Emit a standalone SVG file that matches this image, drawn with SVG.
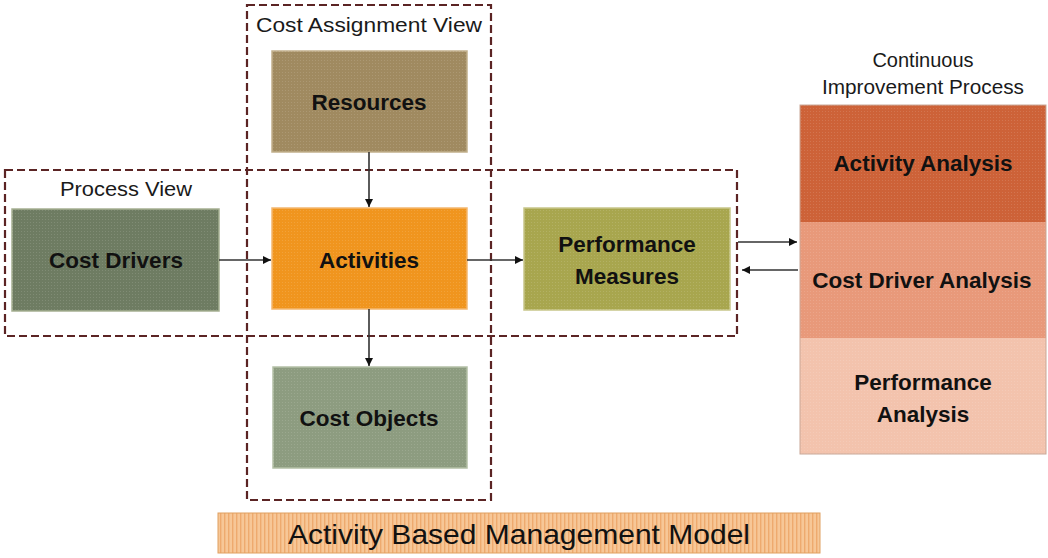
<svg xmlns="http://www.w3.org/2000/svg" width="1048" height="558" viewBox="0 0 1048 558">
<style>
.view{fill:none;stroke:#5b2424;stroke-width:2.2;stroke-dasharray:8 4}
.lbl{font-family:"Liberation Sans",Arial,sans-serif;font-size:20px;fill:#1a1a1a;text-anchor:middle}
.nt{font-family:"Liberation Sans",Arial,sans-serif;font-size:22.5px;font-weight:bold;fill:#111;text-anchor:middle}
.box{stroke-width:1.5}
.con{stroke:#333;stroke-width:1.6;fill:none;marker-end:url(#ah)}
</style>
<defs>
<marker id="ah" viewBox="0 0 10 10" refX="10" refY="5" markerWidth="8" markerHeight="8" markerUnits="userSpaceOnUse" orient="auto"><path d="M0,0 L10,5 L0,10 z" fill="#111"/></marker>
<pattern id="dots" width="3" height="3" patternUnits="userSpaceOnUse"><rect x="0" y="0" width="1" height="1" fill="#fff" fill-opacity="0.12"/></pattern>
<pattern id="stripes" width="4" height="4" patternUnits="userSpaceOnUse"><rect width="4" height="4" fill="#f7c797"/><rect x="0" width="1.4" height="4" fill="#eeaa6e"/></pattern>
</defs>
<g id="cost-assignment-view">
<rect class="view" x="247" y="5" width="244" height="495"/>
<text class="lbl" x="369" y="32" textLength="226" lengthAdjust="spacingAndGlyphs">Cost Assignment View</text>
</g>
<g id="process-view">
<rect class="view" x="5" y="170" width="732" height="166"/>
<text class="lbl" x="126" y="196" textLength="132" lengthAdjust="spacingAndGlyphs">Process View</text>
</g>
<g id="resources">
<rect class="box" x="272" y="51" width="195" height="101" fill="#a08a60" stroke="#c2b08c"/>
<rect x="272" y="51" width="195" height="101" fill="url(#dots)"/>
<text class="nt" x="369" y="110">Resources</text>
</g>
<g id="cost-drivers">
<rect class="box" x="12" y="209" width="207" height="102" fill="#6e7c62" stroke="#a6b092"/>
<rect x="12" y="209" width="207" height="102" fill="url(#dots)"/>
<text class="nt" x="116" y="268">Cost Drivers</text>
</g>
<g id="activities">
<rect class="box" x="272" y="208" width="195" height="101" fill="#f0951e" stroke="#f4b870"/>
<rect x="272" y="208" width="195" height="101" fill="url(#dots)"/>
<text class="nt" x="369" y="268">Activities</text>
</g>
<g id="performance-measures">
<rect class="box" x="524" y="208" width="206" height="102" fill="#a8a64e" stroke="#c8c68a"/>
<rect x="524" y="208" width="206" height="102" fill="url(#dots)"/>
<text class="nt" x="627" y="252">Performance</text>
<text class="nt" x="627" y="284">Measures</text>
</g>
<g id="cost-objects">
<rect class="box" x="273" y="367" width="194" height="101" fill="#8d9c80" stroke="#b4c0a6"/>
<rect x="273" y="367" width="194" height="101" fill="url(#dots)"/>
<text class="nt" x="369" y="426">Cost Objects</text>
</g>
<g id="continuous-improvement-process">
<text class="lbl" x="923" y="67">Continuous</text>
<text class="lbl" x="923" y="94" textLength="202" lengthAdjust="spacingAndGlyphs">Improvement Process</text>
<rect x="800" y="105" width="246" height="117" fill="#cd6238"/>
<rect x="800" y="222" width="246" height="116" fill="#e8997a"/>
<rect x="800" y="338" width="246" height="116" fill="#f3c3ad"/>
<rect x="800" y="105" width="246" height="349" fill="url(#dots)" stroke="#c9a898" stroke-width="1"/>
<text class="nt" x="923" y="171">Activity Analysis</text>
<text class="nt" x="922" y="288">Cost Driver Analysis</text>
<text class="nt" x="923" y="390">Performance</text>
<text class="nt" x="923" y="422">Analysis</text>
</g>
<g id="abm-model">
<rect x="218" y="513" width="602" height="40" fill="url(#stripes)" stroke="#e0a060" stroke-width="1"/>
<text x="519" y="544" font-family="'Liberation Sans',Arial,sans-serif" font-size="28" fill="#111" text-anchor="middle" textLength="462" lengthAdjust="spacingAndGlyphs">Activity Based Management Model</text>
</g>
<g id="connectors">
<line class="con" x1="369" y1="152" x2="369" y2="207"/>
<line class="con" x1="369" y1="309" x2="369" y2="366"/>
<line class="con" x1="219" y1="260" x2="271" y2="260"/>
<line class="con" x1="467" y1="260" x2="523" y2="260"/>
<line class="con" x1="738" y1="242" x2="797" y2="242"/>
<line class="con" x1="798" y1="270" x2="742" y2="270"/>
</g>
</svg>
